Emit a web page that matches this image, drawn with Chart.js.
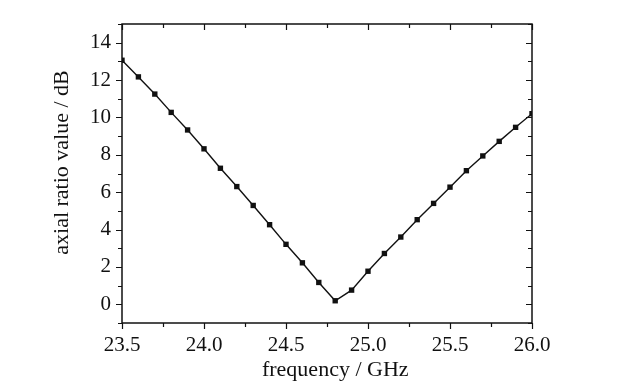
<!DOCTYPE html>
<html>
<head>
<meta charset="utf-8">
<script src="https://cdn.jsdelivr.net/npm/chart.js@4"></script>
<style>
  html, body { margin: 0; padding: 0; background: #fff; }
  #wrap { width: 622px; height: 391px; }
</style>
</head>
<body>
<div id="wrap"><canvas id="chart" width="622" height="391"></canvas></div>
<script>
// frequency (GHz) and axial ratio (dB)
const frequency = [23.5, 23.6, 23.7, 23.8, 23.9, 24.0, 24.1, 24.2, 24.3, 24.4, 24.5, 24.6, 24.7,
  24.8, 24.9, 25.0, 25.1, 25.2, 25.3, 25.4, 25.5, 25.6, 25.7, 25.8, 25.9, 26.0];
const axialRatio = [13.06, 12.17, 11.25, 10.27, 9.33, 8.32, 7.28, 6.3, 5.29, 4.26, 3.21, 2.22, 1.17,
  0.19, 0.76, 1.77, 2.72, 3.6, 4.53, 5.4, 6.27, 7.15, 7.94, 8.72, 9.47, 10.2];

const xTicks = [23.5, 24.0, 24.5, 25.0, 25.5, 26.0];
const yTicks = [0, 2, 4, 6, 8, 10, 12, 14];

const FONT = "'Liberation Serif', 'DejaVu Serif', serif";
const NBSP = "\u00a0";

// dibuja el marco y las marcas (mayores y menores) con las escalas del grafico
const framePlugin = {
  id: "frame",
  afterDraw(chart) {
    const ctx = chart.ctx;
    const a = chart.chartArea;
    const xs = chart.scales.x;
    const ys = chart.scales.y;
    ctx.save();
    ctx.strokeStyle = "#111";
    ctx.lineWidth = 1.5;
    ctx.strokeRect(a.left, a.top, a.right - a.left, a.bottom - a.top);

    ctx.lineWidth = 1.2;
    ctx.beginPath();
    // eje x: marcas cada 0.25
    for (let v = xs.min; v <= xs.max + 1e-9; v += 0.25) {
      const px = Math.round(xs.getPixelForValue(v)) + 0.5;
      const major = Math.abs(v * 2 - Math.round(v * 2)) < 1e-6;
      const len = major ? 6 : 4;
      ctx.moveTo(px, a.bottom);
      ctx.lineTo(px, a.bottom + len);
      ctx.moveTo(px, a.top);
      ctx.lineTo(px, a.top + len);
    }
    // eje y: marcas cada 1
    for (let v = ys.min; v <= ys.max + 1e-9; v += 1) {
      const py = Math.round(ys.getPixelForValue(v)) + 0.5;
      const major = v % 2 === 0;
      const len = major ? 6 : 4;
      ctx.moveTo(a.left, py);
      ctx.lineTo(a.left - len, py);
      ctx.moveTo(a.right, py);
      ctx.lineTo(a.right - len, py);
    }
    ctx.stroke();
    ctx.restore();
  },
};

new Chart(document.getElementById("chart"), {
  type: "line",
  data: {
    datasets: [
      {
        data: frequency.map((f, i) => ({ x: f, y: axialRatio[i] })),
        borderColor: "#111",
        backgroundColor: "#111",
        borderWidth: 1.4,
        pointStyle: "rect",
        pointRadius: 3.8,
        pointBorderWidth: 0,
        tension: 0,
      },
    ],
  },
  options: {
    responsive: false,
    animation: false,
    layout: { padding: { top: 24, right: 90, left: 0, bottom: 0 } },
    plugins: {
      legend: { display: false },
      tooltip: { enabled: false },
    },
    scales: {
      x: {
        type: "linear",
        min: 23.5,
        max: 26.0,
        grid: { display: false, drawTicks: false, tickLength: 0 },
        border: { display: false },
        afterBuildTicks: (s) => { s.ticks = xTicks.map((v) => ({ value: v })); },
        afterFit: (s) => { s.height = 68; },
        ticks: {
          color: "#111",
          font: { family: FONT, size: 21 },
          padding: 10,
          maxRotation: 0,
          callback: (v) => Number(v).toFixed(1),
        },
        title: {
          display: true,
          // espacios delante para correr el titulo a la derecha como en el original
          text: NBSP.repeat(3) + "frequency / GHz",
          color: "#111",
          font: { family: FONT, size: 22 },
          padding: { top: 0, bottom: 8 },
        },
      },
      y: {
        min: -1,
        max: 15,
        grid: { display: false, drawTicks: false, tickLength: 0 },
        border: { display: false },
        afterBuildTicks: (s) => { s.ticks = yTicks.map((v) => ({ value: v })); },
        afterFit: (s) => { s.width = 122; },
        ticks: {
          color: "#111",
          font: { family: FONT, size: 21 },
          padding: 11,
        },
        title: {
          display: true,
          text: NBSP.repeat(4) + "axial ratio value / dB",
          color: "#111",
          font: { family: FONT, size: 22 },
          padding: { top: 49, bottom: 0 },
        },
      },
    },
  },
  plugins: [framePlugin],
});
</script>
</body>
</html>
